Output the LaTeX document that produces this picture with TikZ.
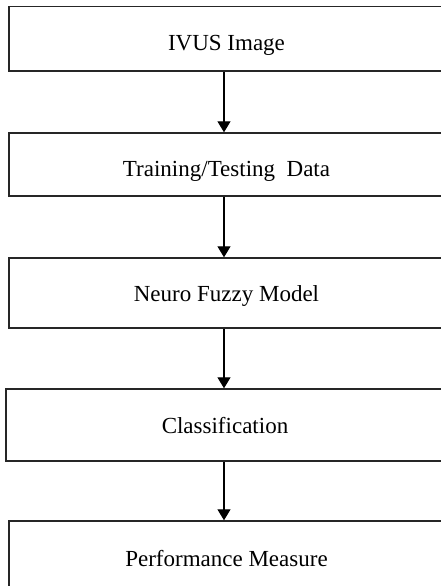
\documentclass[tikz,border=0pt]{standalone}
\usepackage{fontspec}
\setmainfont{Liberation Serif}
\usetikzlibrary{arrows.meta}
\begin{document}
\begin{tikzpicture}[x=1pt,y=-1pt,
  stepbox/.style={draw=black!85,line width=1.4pt,rectangle,inner sep=0pt,
    minimum width=435pt,text height=15.2pt,text depth=0pt,
    font=\fontsize{23}{27}\selectfont},
  arr/.style={line width=1.3pt,-{Triangle[width=13pt,length=11pt]}}]
\useasboundingbox (0,0) rectangle (441,586);
\clip (0,0) rectangle (441,586);
\fill[white] (0,0) rectangle (441,586);
\coordinate (ax) at (224,0);
\node[stepbox,minimum height=64.5pt] (b1) at (226.5,38.75) {\raisebox{-4.5pt}{IVUS Image}};
\node[stepbox,minimum height=63pt] (b2) at (226.5,164.5) {\raisebox{-4.5pt}{Training/Testing\ \ Data}};
\node[stepbox,minimum height=70pt] (b3) at (226.5,293) {\raisebox{-0.5pt}{Neuro Fuzzy Model}};
\node[stepbox,minimum height=72pt,minimum width=438pt] (b4) at (225,425) {\raisebox{-0.5pt}{Classification}};
\node[stepbox,minimum height=70pt] (b5) at (226.5,556) {\raisebox{-3pt}{Performance Measure}};
\draw[arr] (b1.south -| ax) -- (b2.north -| ax);
\draw[arr] (b2.south -| ax) -- (b3.north -| ax);
\draw[arr] (b3.south -| ax) -- (b4.north -| ax);
\draw[arr] (b4.south -| ax) -- (b5.north -| ax);
\end{tikzpicture}
\end{document}
